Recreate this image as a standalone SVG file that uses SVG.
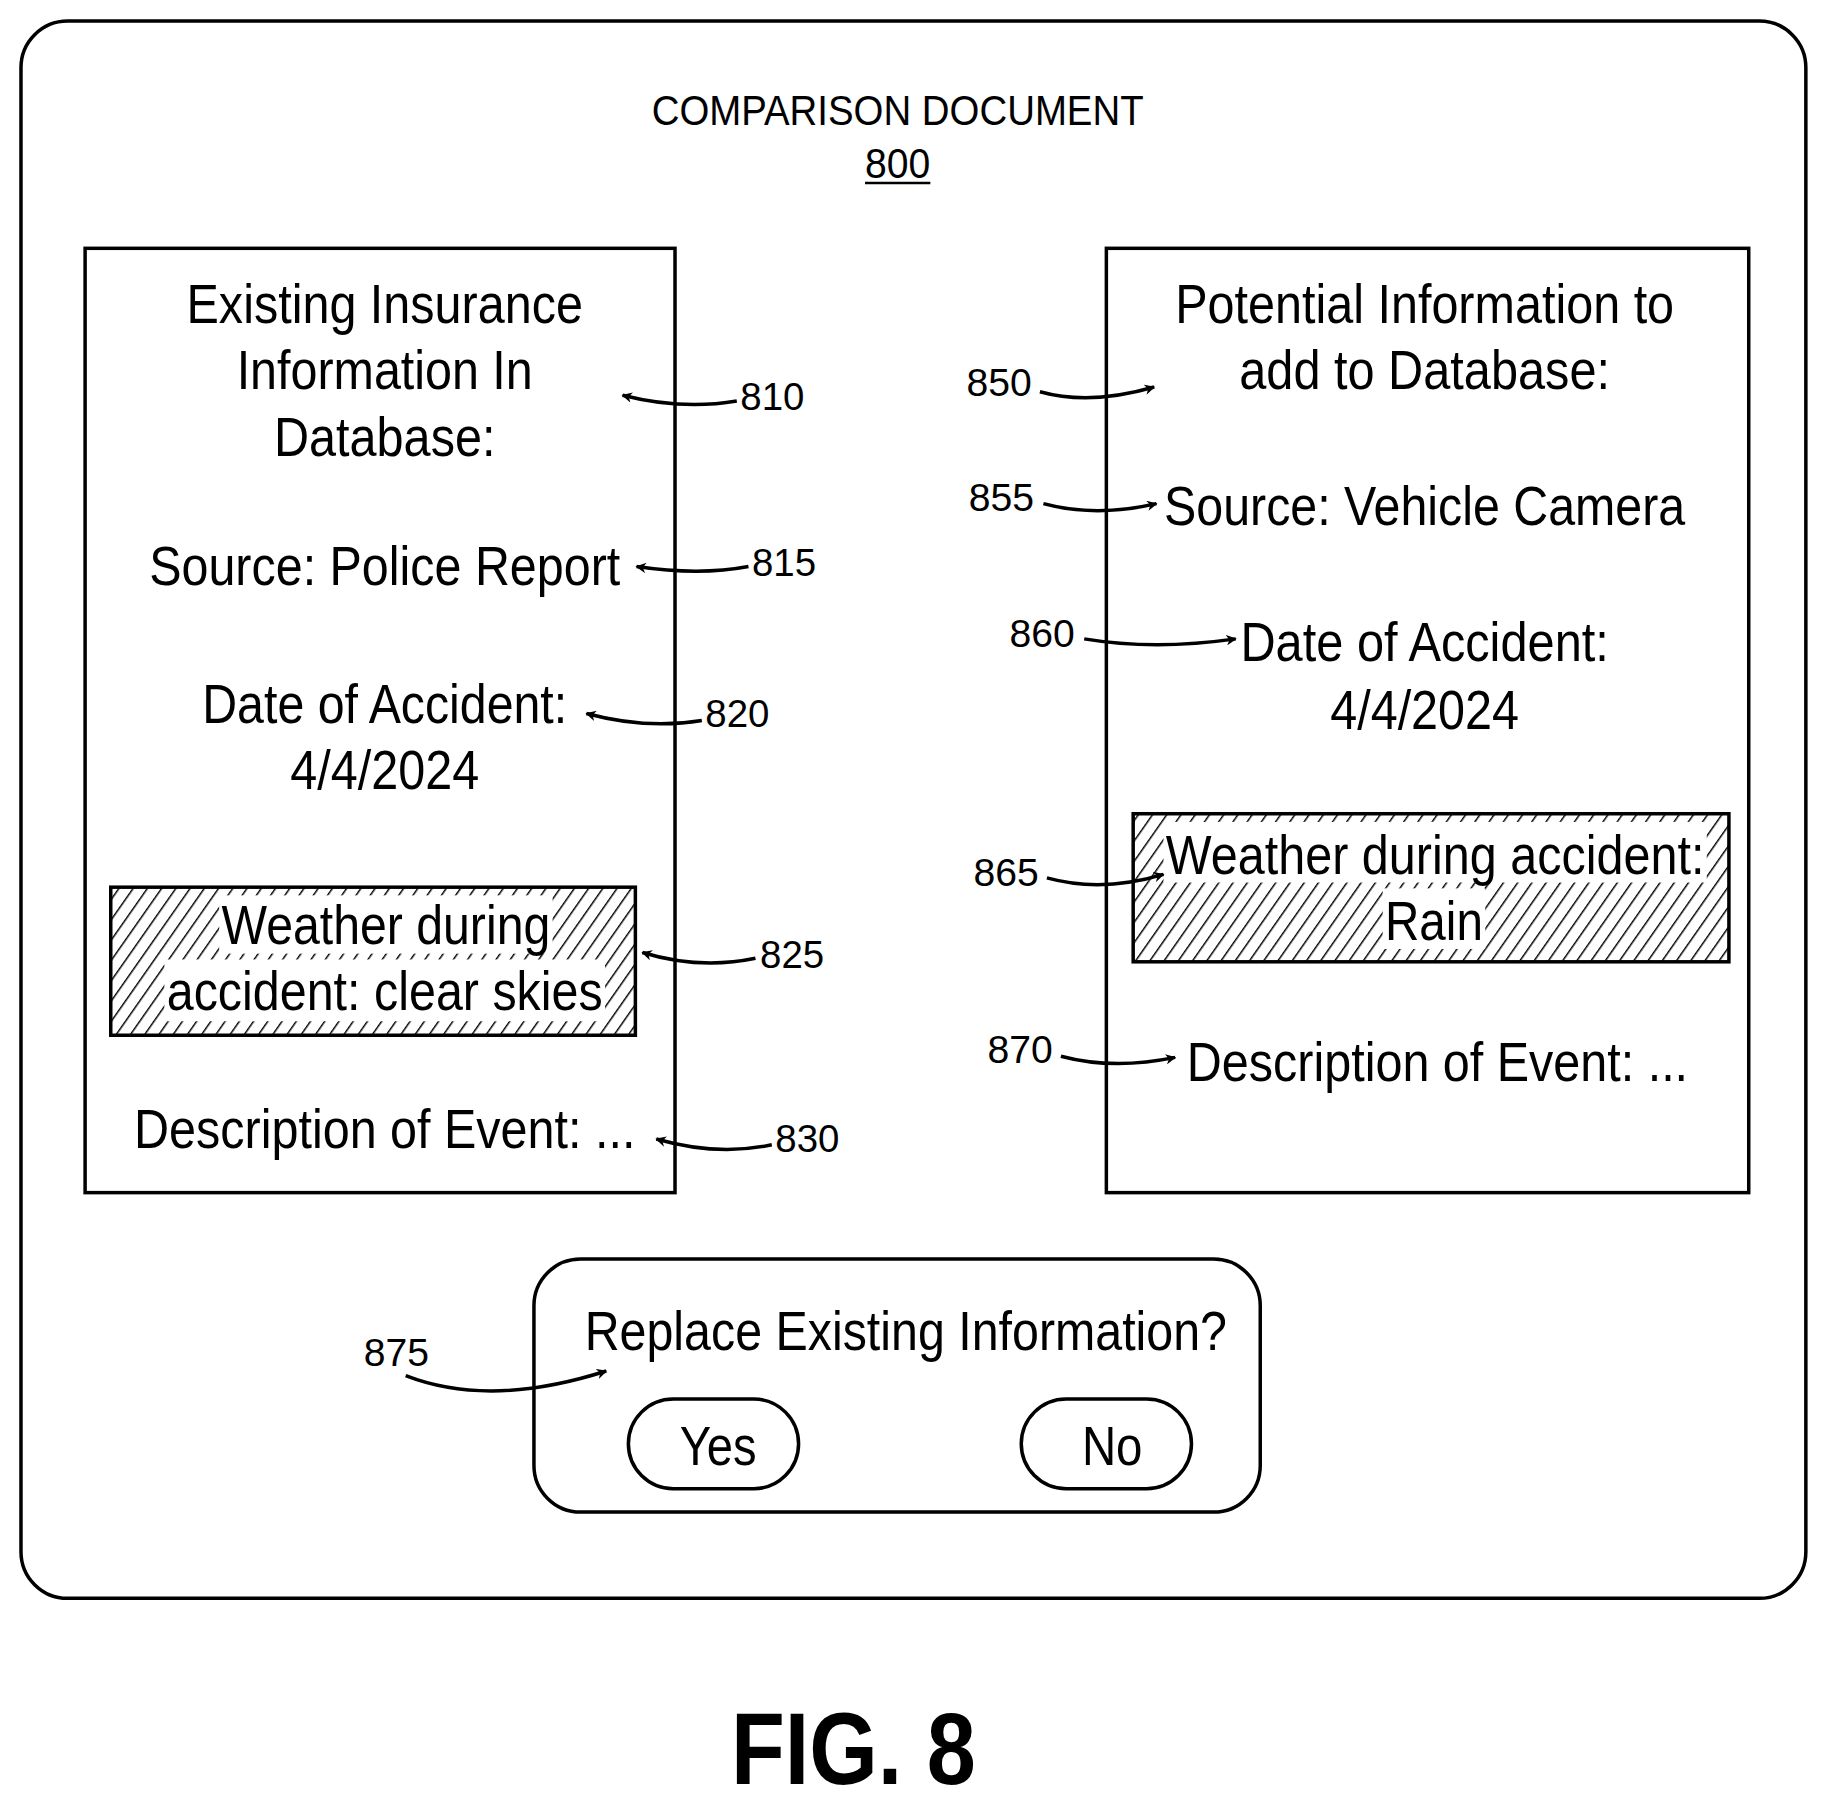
<svg xmlns="http://www.w3.org/2000/svg" width="1828" height="1807" viewBox="0 0 1828 1807">
<defs>
<style>
text{font-family:"Liberation Sans",Arial,sans-serif;fill:#000}
.t{font-size:48px;text-anchor:middle}
.l{font-size:34px}
.b{fill:none;stroke:#000;stroke-width:3}
.c{fill:none;stroke:#000;stroke-width:3}
</style>
<pattern id="h" patternUnits="userSpaceOnUse" width="10" height="10" patternTransform="rotate(35)">
<rect width="10" height="10" fill="#fff"/><line x1="0" y1="0" x2="0" y2="10" stroke="#000" stroke-width="2.5"/>
</pattern>
<marker id="a" viewBox="0 0 10 10" refX="9" refY="5" markerWidth="9" markerHeight="9" markerUnits="userSpaceOnUse" orient="auto"><path d="M0,0L10,5L0,10L3,5z" fill="#000"/></marker>
</defs>
<rect width="1828" height="1807" fill="#fff"/>
<g transform="scale(1.16582)">
<g id="doc">
<rect x="18" y="18" width="1531" height="1353" rx="40" class="b"/>
<text x="770" y="107" font-size="36" text-anchor="middle" textLength="422" lengthAdjust="spacingAndGlyphs">COMPARISON DOCUMENT</text>
<text x="770" y="153" font-size="36" text-anchor="middle" textLength="56" lengthAdjust="spacingAndGlyphs">800</text>
<line x1="742" y1="157" x2="798" y2="157" stroke="#000" stroke-width="2"/>
</g>
<g id="existing">
<rect x="73" y="213" width="506" height="810" class="b"/>
<text class="t" x="330" y="277" textLength="340" lengthAdjust="spacingAndGlyphs">Existing Insurance</text>
<text class="t" x="330" y="334" textLength="254" lengthAdjust="spacingAndGlyphs">Information In</text>
<text class="t" x="330" y="391" textLength="190" lengthAdjust="spacingAndGlyphs">Database:</text>
<text class="t" x="330" y="502" textLength="404" lengthAdjust="spacingAndGlyphs">Source: Police Report</text>
<text class="t" x="330" y="620" textLength="313" lengthAdjust="spacingAndGlyphs">Date of Accident:</text>
<text class="t" x="330" y="677" textLength="162" lengthAdjust="spacingAndGlyphs">4/4/2024</text>
<g id="weather-existing">
<rect x="95" y="761" width="450" height="127" fill="url(#h)" stroke="#000" stroke-width="3"/>
<rect x="188" y="768" width="286" height="50" fill="#fff"/>
<rect x="141" y="823" width="378" height="53" fill="#fff"/>
<text class="t" x="331" y="810" textLength="282" lengthAdjust="spacingAndGlyphs">Weather during</text>
<text class="t" x="330" y="866" textLength="374" lengthAdjust="spacingAndGlyphs">accident: clear skies</text>
</g>
<text class="t" x="330" y="985" textLength="430" lengthAdjust="spacingAndGlyphs">Description of Event: ...</text>
</g>
<g id="potential">
<rect x="949" y="213" width="551" height="810" class="b"/>
<text class="t" x="1222" y="277" textLength="428" lengthAdjust="spacingAndGlyphs">Potential Information to</text>
<text class="t" x="1222" y="334" textLength="318" lengthAdjust="spacingAndGlyphs">add to Database:</text>
<text class="t" x="1222" y="450" textLength="447" lengthAdjust="spacingAndGlyphs">Source: Vehicle Camera</text>
<text class="t" x="1222" y="567" textLength="316" lengthAdjust="spacingAndGlyphs">Date of Accident:</text>
<text class="t" x="1222" y="625" textLength="162" lengthAdjust="spacingAndGlyphs">4/4/2024</text>
<g id="weather-potential">
<rect x="972" y="698" width="511" height="127" fill="url(#h)" stroke="#000" stroke-width="3"/>
<rect x="998" y="705" width="466" height="52" fill="#fff"/>
<rect x="1186" y="762" width="88" height="52" fill="#fff"/>
<text class="t" x="1231" y="750" textLength="462" lengthAdjust="spacingAndGlyphs">Weather during accident:</text>
<text class="t" x="1230" y="806" textLength="84" lengthAdjust="spacingAndGlyphs">Rain</text>
</g>
<text class="t" x="1233" y="927" textLength="430" lengthAdjust="spacingAndGlyphs">Description of Event: ...</text>
</g>
<g id="replace">
<rect x="458" y="1080" width="623" height="217" rx="40" class="b"/>
<text class="t" x="777" y="1158" textLength="551" lengthAdjust="spacingAndGlyphs">Replace Existing Information?</text>
<g id="yes"><rect x="539" y="1200" width="146" height="77" rx="38.5" class="b"/>
<text class="t" x="616" y="1257" textLength="66" lengthAdjust="spacingAndGlyphs">Yes</text></g>
<g id="no"><rect x="876" y="1200" width="146" height="77" rx="38.5" class="b"/>
<text class="t" x="954" y="1257" textLength="52" lengthAdjust="spacingAndGlyphs">No</text></g>
</g>
<g id="labels">
<text class="l" x="635" y="352" textLength="55" lengthAdjust="spacingAndGlyphs">810</text>
<text class="l" x="645" y="494" textLength="55" lengthAdjust="spacingAndGlyphs">815</text>
<text class="l" x="605" y="624" textLength="55" lengthAdjust="spacingAndGlyphs">820</text>
<text class="l" x="652" y="830" textLength="55" lengthAdjust="spacingAndGlyphs">825</text>
<text class="l" x="665" y="988" textLength="55" lengthAdjust="spacingAndGlyphs">830</text>
<text class="l" x="829" y="340" textLength="56" lengthAdjust="spacingAndGlyphs">850</text>
<text class="l" x="831" y="438" textLength="56" lengthAdjust="spacingAndGlyphs">855</text>
<text class="l" x="866" y="555" textLength="56" lengthAdjust="spacingAndGlyphs">860</text>
<text class="l" x="835" y="760" textLength="56" lengthAdjust="spacingAndGlyphs">865</text>
<text class="l" x="847" y="912" textLength="56" lengthAdjust="spacingAndGlyphs">870</text>
<text class="l" x="312" y="1172" textLength="56" lengthAdjust="spacingAndGlyphs">875</text>
</g>
<g id="connectors" marker-end="url(#a)">
<path class="c" d="M632,344 Q585,352 534,339"/>
<path class="c" d="M642,486 Q600,494 546,486"/>
<path class="c" d="M602,618 Q555,626 503,612"/>
<path class="c" d="M648,822 Q600,832 551,817"/>
<path class="c" d="M662,982 Q615,992 563,977"/>
<path class="c" d="M892,336 Q935,348 990,332"/>
<path class="c" d="M895,432 Q940,444 992,432"/>
<path class="c" d="M930,548 Q990,558 1060,548"/>
<path class="c" d="M898,753 Q945,766 998,750"/>
<path class="c" d="M910,906 Q955,918 1008,907"/>
<path class="c" d="M348,1180 Q420,1208 520,1176"/>
</g>
<text x="732" y="1530" font-size="88" font-weight="bold" text-anchor="middle" textLength="210" lengthAdjust="spacingAndGlyphs">FIG. 8</text>
</g>
</svg>
